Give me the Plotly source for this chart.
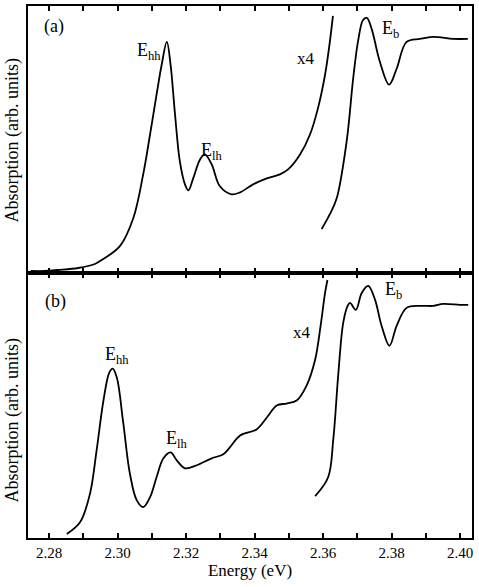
import plotly.graph_objects as go
from plotly.subplots import make_subplots

# ---------------- data (energy in eV, absorption in arb. units) ----------------
a_main_E = [2.2747, 2.2788, 2.2826, 2.2885, 2.2934, 2.2949, 2.3007, 2.3046, 2.3075,
            2.3095, 2.3114, 2.3129, 2.3144, 2.3155, 2.3168, 2.3182, 2.3197, 2.3207,
            2.3221, 2.3241, 2.3255, 2.3275, 2.3299, 2.3333, 2.3358, 2.3396, 2.3436,
            2.3474, 2.3498, 2.3533, 2.3562, 2.3585, 2.3606, 2.3620, 2.3629]
a_main_A = [2, 2, 3, 5, 9, 12, 27, 55, 99,
            139, 179, 209, 232, 209, 159, 112, 89, 83,
            95, 114, 119, 109, 87, 79, 81, 89, 95,
            99, 104, 119, 139, 165, 199, 232, 258]

a_x4_E = [2.3596, 2.3620, 2.3640, 2.3669, 2.3688, 2.3702, 2.3717, 2.3728, 2.3742,
          2.3766, 2.3793, 2.3815, 2.3844, 2.3883, 2.3921, 2.3980, 2.4023]
a_x4_A = [44, 59, 75, 132, 195, 232, 254, 256, 245,
          212, 189, 205, 232, 235, 237, 235, 235]

b_main_E = [2.2852, 2.2891, 2.2920, 2.2939, 2.2959, 2.2976, 2.2986, 2.2998, 2.3017,
            2.3036, 2.3056, 2.3075, 2.3095, 2.3114, 2.3134, 2.3155, 2.3173, 2.3197,
            2.3231, 2.3275, 2.3309, 2.3328, 2.3358, 2.3406, 2.3436, 2.3465, 2.3494,
            2.3523, 2.3552, 2.3577, 2.3593, 2.3606, 2.3613]
b_main_A = [4, 16, 45, 88, 138, 166, 170, 161, 115,
            65, 38, 31, 41, 61, 80, 86, 78, 70,
            73, 80, 84, 91, 103, 109, 121, 133, 135,
            138, 153, 179, 213, 246, 259]

b_x4_E = [2.3577, 2.3615, 2.3630, 2.3645, 2.3659, 2.3672, 2.3679, 2.3696, 2.3713,
          2.3732, 2.3752, 2.3771, 2.3794, 2.3815, 2.3844, 2.3883, 2.3922, 2.3951,
          2.4000, 2.4024]
b_x4_A = [42, 61, 99, 166, 216, 233, 236, 229, 246,
          253, 239, 213, 193, 213, 231, 233, 233, 235,
          234, 234]

tick_vals = [2.28, 2.29, 2.30, 2.31, 2.32, 2.33, 2.34, 2.35, 2.36, 2.37, 2.38, 2.39, 2.40]
tick_text = ["2.28", "", "2.30", "", "2.32", "", "2.34", "", "2.36", "", "2.38", "", "2.40"]

# ---------------- figure ----------------
W, H = 479, 587
L, R, T, B = 28, 7, 4, 49
split_px = 272
plot_h = H - T - B
split_frac = (H - B - split_px) / plot_h

FONT = "Liberation Serif"
fig = make_subplots(rows=2, cols=1, shared_xaxes=True, vertical_spacing=0)

line = dict(color="black", width=1.8, shape="spline", smoothing=1.0)
fig.add_trace(go.Scatter(x=a_main_E, y=a_main_A, mode="lines", line=line), row=1, col=1)
fig.add_trace(go.Scatter(x=a_x4_E, y=a_x4_A, mode="lines", line=line), row=1, col=1)
fig.add_trace(go.Scatter(x=b_main_E, y=b_main_A, mode="lines", line=line), row=2, col=1)
fig.add_trace(go.Scatter(x=b_x4_E, y=b_x4_A, mode="lines", line=line), row=2, col=1)

xr = [2.28 + (L - 49) / 3425, 2.28 + (W - R - 49) / 3425]
xcommon = dict(range=xr, tickmode="array", tickvals=tick_vals, ticktext=tick_text,
               ticks="inside", ticklen=5, tickwidth=1.5, tickcolor="black",
               showline=True, linecolor="black", linewidth=1.5, mirror="ticks",
               showgrid=False, zeroline=False,
               tickfont=dict(family=FONT, size=15, color="black"))
fig.update_xaxes(**xcommon)
fig.update_xaxes(showticklabels=False, row=1, col=1)
fig.update_xaxes(title=dict(text="Energy (eV)", font=dict(family=FONT, size=17, color="black"),
                            standoff=4), row=2, col=1)

ycommon = dict(showticklabels=False, ticks="", showline=True, linecolor="black",
               linewidth=1.5, mirror=True, showgrid=False, zeroline=False)
fig.update_yaxes(**ycommon)
fig.update_yaxes(range=[0, 268], domain=[split_frac, 1], row=1, col=1)
fig.update_yaxes(range=[0, 266], domain=[0, split_frac], row=2, col=1)

def px_x(px):
    return (px - L) / (W - L - R)

def px_y(py):
    return (H - B - py) / plot_h

ann = []
def txt(s, x, y, size=18):
    ann.append(dict(text=s, x=px_x(x), y=px_y(y), xref="paper", yref="paper",
                    showarrow=False, xanchor="center", yanchor="middle",
                    font=dict(family=FONT, size=size, color="black")))

txt("(a)", 54, 25)
txt("(b)", 55, 301)
txt("E<sub>hh</sub>", 149, 50)
txt("E<sub>lh</sub>", 211, 150)
txt("x4", 306, 57, 17)
txt("E<sub>b</sub>", 390, 28)
txt("E<sub>hh</sub>", 117, 355)
txt("E<sub>lh</sub>", 176, 439)
txt("x4", 302, 332, 17)
txt("E<sub>b</sub>", 393, 290)

for cy in (139, 420):
    ann.append(dict(text="Absorption (arb. units)", x=px_x(12), y=px_y(cy),
                    xref="paper", yref="paper", showarrow=False, textangle=-90,
                    xanchor="center", yanchor="middle",
                    font=dict(family=FONT, size=18, color="black")))

fig.update_layout(width=W, height=H, margin=dict(l=L, r=R, t=T, b=B),
                  plot_bgcolor="white", paper_bgcolor="white",
                  showlegend=False, annotations=ann)

fig.write_html("out.html")
